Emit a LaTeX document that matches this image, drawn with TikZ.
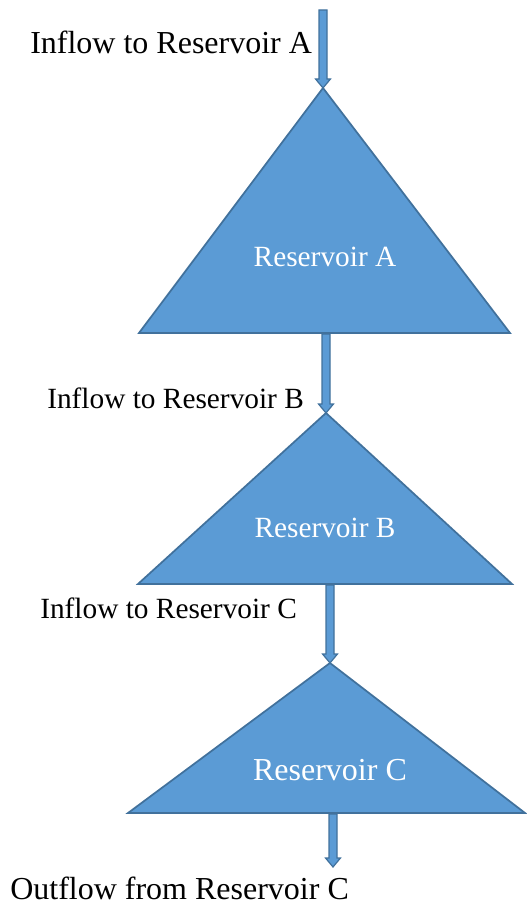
\documentclass[tikz,border=0pt]{standalone}
\usepackage{fontspec}
\setmainfont{Liberation Serif}
\usetikzlibrary{calc}
\definecolor{resfill}{HTML}{5B9BD5}
\definecolor{resline}{HTML}{41719C}
\tikzstyle{reservoir}=[draw=resline,fill=resfill,line width=1.3pt,line join=miter]
\tikzstyle{flow}=[draw=resline,fill=resfill,line width=0.9pt]
\tikzstyle{bigtext}=[font=\fontsize{24}{28}\selectfont,inner sep=0pt]
\tikzstyle{smalltext}=[font=\fontsize{22}{26}\selectfont,inner sep=0pt]
% block arrow pointing down, from #1 to #2
\newcommand{\blockarrow}[2]{%
  \path[flow] let \p1=(#1), \p2=(#2) in
    (\x1-3pt,\y1) -- (\x1+3pt,\y1) -- (\x1+3pt,\y2+6.75pt) -- (\x1+5.6pt,\y2+6.75pt)
    -- (\x1,\y2) -- (\x1-5.6pt,\y2+6.75pt) -- (\x1-3pt,\y2+6.75pt) -- cycle;}

\begin{document}
\begin{tikzpicture}[x=0.75pt,y=-0.75pt]

  \useasboundingbox (0,0) rectangle (526,906);

  % reservoirs
  \foreach \name/\xl/\xr/\yb/\xt/\yt in {A/139/510/333/323/88, B/138/512/584/326/413, C/128/525/813/330/663}
         \draw[reservoir] (\xl,\yb) -- (\xr,\yb) -- (\xt,\yt) coordinate (top\name) -- cycle;

  \foreach \x/\y/\name/\label in {325/257/resA/Reservoir A, 325/528/resB/Reservoir B}
         \node[smalltext,white] (\name) at (\x,\y) {\label};
  \node[bigtext,white] (resC) at (330,770) {Reservoir C};

  % flows
  \coordinate (inA) at (323,10);
  \coordinate (outA) at (326,334);
  \coordinate (outB) at (330,585);
  \coordinate (outC) at (333,814);
  \coordinate (endC) at (333,867);

  \foreach \source/\dest in {inA/topA, outA/topB, outB/topC, outC/endC}
         {\blockarrow{\source}{\dest}}

  \node[bigtext,anchor=west] (flowA) at (30,42) {Inflow to Reservoir A};
  \node[smalltext,anchor=west] (flowB) at (47,398) {Inflow to Reservoir B};
  \node[smalltext,anchor=west] (flowC) at (40,608) {Inflow to Reservoir C};
  \node[bigtext,anchor=west] (flowout) at (10,888) {Outflow from Reservoir C};

\end{tikzpicture}
\end{document}
